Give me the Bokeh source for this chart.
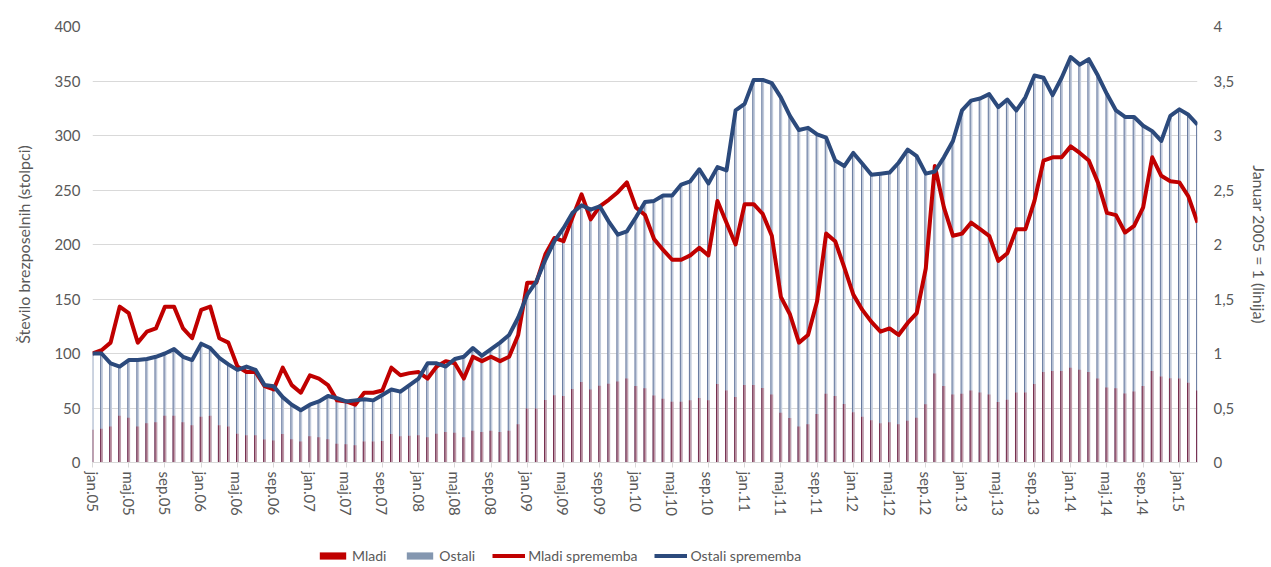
from bokeh.plotting import figure
from bokeh.layouts import column
from bokeh.models import (Range1d, LinearAxis, FixedTicker, CustomJSTickFormatter,
                          Legend, LegendItem, ColumnDataSource)
from bokeh.transform import dodge
from bokeh.embed import file_html
from bokeh.resources import INLINE

# ---------------- data ----------------
month_names = ["jan", "feb", "mar", "apr", "maj", "jun", "jul", "avg", "sep", "okt", "nov", "dec"]
n_months = 123  # jan.05 .. mar.15
months = [f"{month_names[k % 12]}.{5 + k // 12:02d}" for k in range(n_months)]
month_index = list(range(n_months))

# number of unemployed young people (bars, "Mladi")
mladi = [30.0, 30.9, 33.0, 42.9, 41.1, 33.0, 36.0, 36.9, 42.9, 42.9, 36.9, 34.2,
         42.0, 42.9, 34.2, 33.0, 26.4, 24.9, 24.9, 21.0, 20.1, 26.1, 21.3, 19.2,
         24.0, 23.1, 21.3, 17.1, 16.8, 15.9, 19.2, 19.2, 19.8, 26.1, 24.0, 24.6,
         24.9, 23.1, 26.4, 27.9, 27.3, 23.1, 29.1, 27.9, 29.1, 27.9, 29.1, 35.1,
         49.5, 49.5, 57.3, 61.8, 60.9, 67.5, 73.8, 66.9, 70.5, 72.3, 74.4, 77.1,
         70.2, 68.1, 61.5, 58.5, 55.8, 55.8, 57.0, 59.1, 57.0, 72.0, 66.0, 60.0,
         71.1, 71.1, 68.4, 62.4, 45.6, 40.8, 33.0, 35.1, 44.4, 63.0, 60.9, 53.7,
         46.2, 42.0, 38.7, 36.0, 36.9, 35.1, 38.4, 41.1, 53.4, 81.6, 70.2, 62.4,
         63.0, 66.0, 64.2, 62.4, 55.5, 57.6, 64.2, 64.2, 72.0, 83.1, 84.0, 84.0,
         87.0, 85.2, 83.1, 77.1, 68.7, 68.1, 63.3, 65.1, 70.2, 84.0, 78.9, 77.4,
         77.1, 73.2, 66.0]

# number of other unemployed (bars, "Ostali")
ostali = [100, 100, 91, 88, 94, 94, 95, 97, 100, 104, 97, 94,
          109, 105, 96, 90, 85, 88, 85, 71, 70, 60, 53, 48,
          53, 56, 61, 59, 56, 57, 58, 57, 62, 67, 65, 71,
          77, 91, 91, 88, 95, 97, 105, 98, 104, 110, 117, 133,
          154, 166, 186, 203, 215, 229, 236, 232, 235, 221, 209, 212,
          225, 239, 240, 245, 245, 255, 258, 269, 256, 271, 268, 323,
          329, 351, 351, 348, 335, 318, 305, 307, 301, 298, 277, 272,
          284, 274, 264, 265, 266, 275, 287, 281, 265, 267, 280, 295,
          323, 332, 334, 338, 326, 333, 323, 335, 355, 353, 337, 353,
          372, 365, 370, 355, 338, 323, 317, 317, 309, 304, 295, 318,
          324, 319, 310]

# index series, January 2005 = 1
mladi_idx = [v / mladi[0] for v in mladi]
ostali_idx = [v / ostali[0] for v in ostali]

left_ticks = [0, 50, 100, 150, 200, 250, 300, 350, 400]
right_ticks = [0, 0.5, 1, 1.5, 2, 2.5, 3, 3.5, 4]
x_ticks = list(range(0, n_months, 4))

# ---------------- styling ----------------
FONT = "Lato"
GREY = "#595959"
GRID = "#d9d9d9"
RED = "#c00000"
NAVY = "#2c4a7c"

p = figure(frame_width=1105, frame_height=436,
           x_range=Range1d(0, n_months - 1), y_range=Range1d(0, 400),
           output_backend="svg", toolbar_location=None,
           min_border_left=92, min_border_right=70, min_border_top=26, min_border_bottom=77)
p.extra_y_ranges = {"idx": Range1d(0, 4)}
p.outline_line_color = None
p.xgrid.visible = False
p.ygrid.grid_line_color = GRID
p.ygrid.grid_line_width = 1

cds = ColumnDataSource(dict(x=month_index, mladi=mladi, ostali=ostali, mi=mladi_idx, oi=ostali_idx))

# bars: Ostali behind, Mladi in front (overlapping columns)
p.vbar(x="x", top="ostali", width=0.3, source=cds, fill_color="#c2cbdb", line_color=None)
p.vbar(x=dodge("x", -0.1), top="ostali", width=0.1, source=cds, fill_color="#60739a", line_color=None)
p.vbar(x="x", top="mladi", width=0.3, source=cds, fill_color="#bf99a8", line_color=None)
p.vbar(x=dodge("x", -0.1), top="mladi", width=0.1, source=cds, fill_color="#6e2446", line_color=None)

# lines on the index axis
p.line(x="x", y="mi", source=cds, y_range_name="idx", line_color=RED, line_width=4, line_join="round")
p.line(x="x", y="oi", source=cds, y_range_name="idx", line_color=NAVY, line_width=4, line_join="round")

# left axis
ya = p.yaxis[0]
ya.ticker = FixedTicker(ticks=left_ticks)
ya.axis_line_color = None
ya.major_tick_line_color = None
ya.minor_tick_line_color = None
ya.major_label_text_font = FONT
ya.major_label_text_font_size = "15px"
ya.major_label_text_color = GREY
ya.major_label_standoff = 6
ya.axis_label = "Število brezposelnih (stolpci)"
ya.axis_label_text_font = FONT
ya.axis_label_text_font_size = "16px"
ya.axis_label_text_font_style = "normal"
ya.axis_label_text_color = GREY
ya.axis_label_standoff = 18

# right axis
ra = LinearAxis(y_range_name="idx", ticker=FixedTicker(ticks=right_ticks),
                formatter=CustomJSTickFormatter(code="return tick.toString().replace('.', ',');"))
ra.axis_line_color = None
ra.major_tick_line_color = None
ra.minor_tick_line_color = None
ra.major_label_text_font = FONT
ra.major_label_text_font_size = "15px"
ra.major_label_text_color = GREY
ra.major_label_standoff = 10
ra.axis_label = "Januar 2005 = 1 (linija)"
ra.axis_label_text_font = FONT
ra.axis_label_text_font_size = "16px"
ra.axis_label_text_font_style = "normal"
ra.axis_label_text_color = GREY
ra.axis_label_standoff = 13
p.add_layout(ra, "right")

# bottom axis
xa = p.xaxis[0]
xa.ticker = FixedTicker(ticks=x_ticks)
xa.major_label_overrides = {k: months[k] for k in x_ticks}
xa.major_label_orientation = "vertical"
xa.axis_line_color = GRID
xa.major_tick_line_color = GRID
xa.major_tick_out = 5
xa.major_tick_in = 0
xa.minor_tick_line_color = None
xa.major_label_text_font = FONT
xa.major_label_text_font_size = "15px"
xa.major_label_text_color = GREY
xa.major_label_standoff = 4

# ---------------- legend strip below the chart ----------------
# the swatch renderers hold one point outside the visible range (legend only)
lf = figure(width=1267, height=27, x_range=Range1d(0, 1), y_range=Range1d(0, 1),
            output_backend="svg", toolbar_location=None, min_border=0)
lf.axis.visible = False
lf.grid.visible = False
lf.outline_line_color = None
lg_m = lf.vbar(x=[-5], top=[-5], width=0.5, fill_color=RED, line_color=None)
lg_o = lf.vbar(x=[-5], top=[-5], width=0.5, fill_color="#8497b0", line_color=None)
lg_ml = lf.line(x=[-5, -4], y=[-5, -5], line_color=RED, line_width=4)
lg_ol = lf.line(x=[-5, -4], y=[-5, -5], line_color=NAVY, line_width=4)
legend = Legend(items=[LegendItem(label="Mladi", renderers=[lg_m]),
                       LegendItem(label="Ostali", renderers=[lg_o]),
                       LegendItem(label="Mladi sprememba", renderers=[lg_ml]),
                       LegendItem(label="Ostali sprememba", renderers=[lg_ol])],
                orientation="horizontal", location=(224, 2),
                border_line_color=None, background_fill_alpha=0,
                label_text_font=FONT, label_text_font_size="14px", label_text_color=GREY,
                glyph_width=33, glyph_height=9, label_standoff=3, spacing=17,
                padding=1, margin=0)
lf.add_layout(legend, "center")

layout = column(p, lf, spacing=0)
open("out.html", "w").write(file_html(layout, INLINE))
